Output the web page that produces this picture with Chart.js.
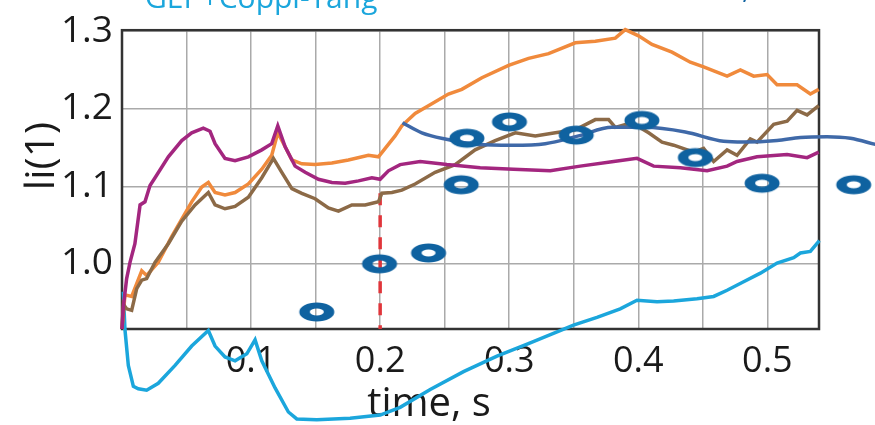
<!DOCTYPE html>
<html>
<head>
<meta charset="utf-8">
<script src="https://cdn.jsdelivr.net/npm/chart.js@4.4.1/dist/chart.umd.min.js"></script>
<style>
  html, body { margin: 0; padding: 0; background: #fff; }
  canvas { display: block; }
</style>
</head>
<body>
<canvas id="liChart" width="875" height="425"></canvas>
<script>
// ===== data =====
const magentaT = [0, 0.001, 0.0036, 0.0062, 0.010, 0.014, 0.0178, 0.0217, 0.0256, 0.0359, 0.0463, 0.054, 0.063, 0.0682, 0.0721, 0.0798, 0.0876, 0.0979, 0.1083, 0.116, 0.1207, 0.1264, 0.1341, 0.1419, 0.1522, 0.1626, 0.1729, 0.1832, 0.1936, 0.2, 0.2064, 0.2155, 0.231, 0.2517, 0.2775, 0.3033, 0.3318, 0.355, 0.3809, 0.399, 0.4119, 0.4326, 0.4533, 0.4688, 0.4765, 0.492, 0.5153, 0.5308, 0.5398];
const magentaV = [0.916, 0.944, 0.981, 1.002, 1.026, 1.076, 1.080, 1.101, 1.111, 1.138, 1.159, 1.169, 1.175, 1.171, 1.155, 1.136, 1.133, 1.138, 1.147, 1.155, 1.178, 1.151, 1.126, 1.118, 1.109, 1.105, 1.104, 1.107, 1.111, 1.109, 1.120, 1.128, 1.132, 1.128, 1.124, 1.122, 1.120, 1.126, 1.132, 1.136, 1.126, 1.124, 1.120, 1.126, 1.132, 1.138, 1.141, 1.137, 1.144];

const orangeT = [0, 0.0023, 0.0075, 0.0153, 0.0191, 0.0281, 0.0385, 0.054, 0.0618, 0.0669, 0.0721, 0.0798, 0.0876, 0.0979, 0.1083, 0.116, 0.1207, 0.1264, 0.1316, 0.1393, 0.1496, 0.1626, 0.1754, 0.1909, 0.1987, 0.2039, 0.2116, 0.2168, 0.2271, 0.2374, 0.2529, 0.2633, 0.2788, 0.2995, 0.315, 0.3305, 0.3512, 0.3667, 0.3822, 0.3899, 0.4002, 0.4106, 0.4261, 0.4403, 0.4506, 0.4688, 0.4791, 0.4894, 0.4998, 0.5075, 0.523, 0.5333, 0.5398];
const orangeV = [0.916, 0.960, 0.958, 0.991, 0.985, 1.002, 1.035, 1.080, 1.099, 1.105, 1.092, 1.089, 1.092, 1.103, 1.122, 1.140, 1.169, 1.151, 1.134, 1.129, 1.128, 1.130, 1.134, 1.140, 1.138, 1.149, 1.165, 1.178, 1.194, 1.204, 1.219, 1.225, 1.240, 1.256, 1.265, 1.271, 1.285, 1.287, 1.291, 1.302, 1.294, 1.283, 1.273, 1.260, 1.254, 1.242, 1.250, 1.242, 1.244, 1.231, 1.231, 1.219, 1.225];

const brownT = [0, 0.001, 0.0036, 0.0075, 0.0114, 0.0153, 0.0191, 0.0256, 0.0359, 0.0463, 0.0566, 0.0669, 0.0721, 0.0798, 0.0876, 0.0979, 0.1083, 0.1173, 0.1238, 0.1316, 0.1393, 0.1496, 0.1599, 0.1677, 0.1781, 0.1884, 0.1987, 0.2013, 0.2091, 0.2168, 0.2271, 0.2426, 0.2581, 0.2736, 0.2891, 0.3047, 0.3202, 0.3357, 0.3512, 0.3667, 0.377, 0.3822, 0.3951, 0.408, 0.4184, 0.4274, 0.4429, 0.4506, 0.4584, 0.4688, 0.4765, 0.4868, 0.492, 0.5049, 0.5153, 0.523, 0.5308, 0.5398];
const brownV = [0.916, 0.948, 0.942, 0.940, 0.968, 0.979, 0.981, 1.002, 1.026, 1.055, 1.076, 1.092, 1.076, 1.071, 1.074, 1.086, 1.111, 1.136, 1.118, 1.097, 1.091, 1.084, 1.072, 1.068, 1.076, 1.076, 1.080, 1.091, 1.092, 1.095, 1.103, 1.118, 1.128, 1.147, 1.159, 1.169, 1.165, 1.169, 1.173, 1.186, 1.186, 1.176, 1.182, 1.169, 1.157, 1.153, 1.144, 1.149, 1.132, 1.147, 1.140, 1.161, 1.157, 1.180, 1.184, 1.198, 1.192, 1.204];

const blueT = [0.2173, 0.2323, 0.2504, 0.2762, 0.3021, 0.3279, 0.3537, 0.3796, 0.4054, 0.4364, 0.4661, 0.4816, 0.5075, 0.5256, 0.5463, 0.5643, 0.5837];
const blueV = [1.182, 1.169, 1.161, 1.154, 1.153, 1.155, 1.165, 1.176, 1.176, 1.170, 1.158, 1.157, 1.159, 1.163, 1.164, 1.162, 1.154];

const cyanT = [0.001, 0.0023, 0.0049, 0.0088, 0.0126, 0.0191, 0.0281, 0.0411, 0.054, 0.0669, 0.0721, 0.0798, 0.0876, 0.0967, 0.1031, 0.1083, 0.1186, 0.1289, 0.1354, 0.1509, 0.1767, 0.2, 0.2155, 0.2388, 0.2646, 0.2905, 0.3163, 0.3498, 0.368, 0.386, 0.399, 0.4145, 0.4274, 0.4455, 0.4584, 0.4688, 0.4816, 0.4946, 0.5075, 0.5204, 0.5256, 0.5333, 0.5403];
const cyanV = [0.964, 0.915, 0.869, 0.842, 0.839, 0.837, 0.846, 0.869, 0.894, 0.914, 0.894, 0.880, 0.875, 0.884, 0.902, 0.875, 0.840, 0.809, 0.800, 0.799, 0.801, 0.805, 0.815, 0.838, 0.861, 0.881, 0.898, 0.921, 0.931, 0.942, 0.953, 0.951, 0.952, 0.955, 0.958, 0.966, 0.977, 0.988, 1.001, 1.008, 1.014, 1.016, 1.030];

// measured points ("O")
const measT = [0.1509, 0.1995, 0.2375, 0.2628, 0.2672, 0.3002, 0.3519, 0.4028, 0.4442, 0.4959, 0.5669];
const measV = [0.938, 1.000, 1.014, 1.102, 1.162, 1.183, 1.166, 1.185, 1.137, 1.104, 1.102];

// red dashed marker at t = 0.2
const markT = [0.2, 0.2];
const markV = [1.091, 0.916];

const xTicks = [0.05, 0.1, 0.15, 0.2, 0.25, 0.3, 0.35, 0.4, 0.45, 0.5];
const yTicks = [1.0, 1.1, 1.2, 1.3];

const FONT = "'Open Sans', 'Noto Sans', sans-serif";

function pts(t, v) {
  return t.map((x, i) => ({ x: x, y: v[i] }));
}

// "O" glyph used for the measured points
function makeRing() {
  const c = document.createElement("canvas");
  c.width = 38;
  c.height = 22;
  const g = c.getContext("2d");
  g.fillStyle = "#0f62a0";
  g.beginPath();
  g.ellipse(19, 11, 17.5, 9.5, 0, 0, Math.PI * 2);
  g.ellipse(19, 11, 7, 3.4, 0, 0, Math.PI * 2);
  g.fill("evenodd");
  return c;
}
const ring = makeRing();

function line(data, color, order, extra) {
  return Object.assign({
    data: data,
    borderColor: color,
    borderWidth: 3.5,
    pointRadius: 0,
    tension: 0,
    fill: false,
    clip: false,
    order: order
  }, extra || {});
}

// frame and texts
const framePlugin = {
  id: "frame",
  beforeDatasetsDraw(chart) {
    const a = chart.chartArea;
    const c = chart.ctx;
    c.save();
    c.strokeStyle = "#333";
    c.lineWidth = 2.5;
    c.strokeRect(a.left, a.top - 1, a.right - a.left, a.bottom - a.top + 1);

    c.fillStyle = "#1a1a1a";
    c.font = "40px " + FONT;
    c.textAlign = "center";
    c.textBaseline = "alphabetic";
    c.fillText("time, s", 429, 416);

    c.save();
    c.translate(54, 156);
    c.rotate(-Math.PI / 2);
    c.font = "41px " + FONT;
    c.fillText("li(1)", 0, 0);
    c.restore();

    c.textAlign = "left";
    c.font = "30px " + FONT;
    c.fillStyle = "#1ba6dc";
    c.fillText("GEP+Coppi-Tang", 145, 8);
    c.fillStyle = "#0f62a0";
    c.fillText(",", 742, -2);
    c.restore();
  },
  // the measured "O" marks, drawn at the points the x/y scales give them
  afterDatasetsDraw(chart) {
    const meta = chart.getDatasetMeta(0);
    const c = chart.ctx;
    meta.data.forEach(el => {
      c.drawImage(ring, el.x - ring.width / 2, el.y - ring.height / 2);
    });
  }
};

const ctx = document.getElementById("liChart");

new Chart(ctx, {
  type: "line",
  data: {
    datasets: [
      {
        data: pts(measT, measV),
        showLine: false,
        pointRadius: 0,
        clip: false,
        order: 0
      },
      line(pts(blueT, blueV), "#3f69a8", 1, { tension: 0.4, cubicInterpolationMode: "monotone" }),
      line(pts(magentaT, magentaV), "#a3267f", 2),
      line(pts(brownT, brownV), "#8c6a47", 3),
      line(pts(orangeT, orangeV), "#f08a3c", 4),
      line(pts(cyanT, cyanV), "#1ba6dc", 5),
      line(pts(markT, markV), "#e0353a", 6, { borderDash: [12, 10] })
    ]
  },
  options: {
    responsive: false,
    animation: false,
    events: [],
    layout: { padding: { top: 20, right: 56, left: 0, bottom: 0 } },
    plugins: {
      legend: { display: false },
      tooltip: { enabled: false }
    },
    scales: {
      x: {
        type: "linear",
        bounds: "data",
        afterDataLimits: s => { s.min = 0; s.max = 0.54; },
        afterBuildTicks: s => { s.ticks = xTicks.map(v => ({ value: v })); },
        afterFit: s => { s.height = 96; },
        grid: { color: "#aaaaaa", lineWidth: 1.5, drawTicks: false },
        border: { display: false },
        ticks: {
          autoSkip: false,
          maxRotation: 0,
          padding: 11,
          color: "#1a1a1a",
          font: { family: FONT, size: 36 },
          callback: v => (Math.abs(v * 10 - Math.round(v * 10)) < 1e-6 ? v.toFixed(1) : "")
        }
      },
      y: {
        type: "linear",
        min: 0.916,
        max: 1.3,
        afterBuildTicks: s => { s.ticks = yTicks.map(v => ({ value: v })); },
        afterFit: s => { s.width = 122; },
        grid: { color: "#aaaaaa", lineWidth: 1.5, drawTicks: false },
        border: { display: false },
        ticks: {
          padding: 9,
          color: "#1a1a1a",
          font: { family: FONT, size: 37 },
          callback: v => v.toFixed(1)
        }
      }
    }
  },
  plugins: [framePlugin]
});
</script>
</body>
</html>
